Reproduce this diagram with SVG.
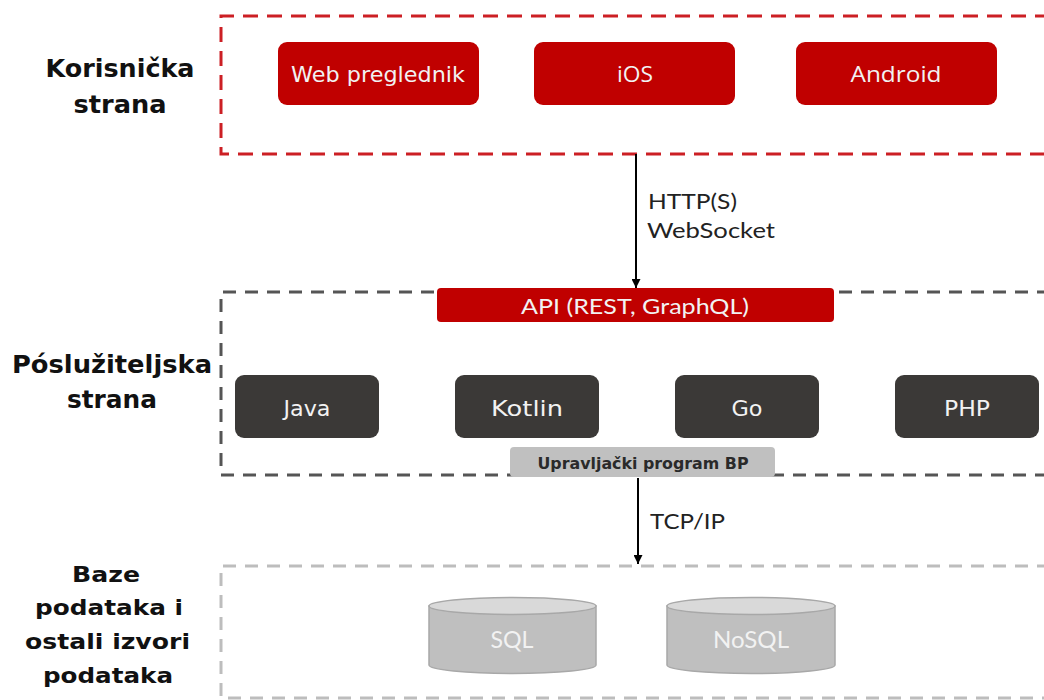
<svg xmlns="http://www.w3.org/2000/svg" width="1044" height="700" viewBox="0 0 1044 700">
<defs>
<style>
.lbl{font-family:"DejaVu Sans","Liberation Sans",sans-serif;font-weight:bold;font-size:24px;fill:#111;text-anchor:middle}
.red{fill:#c00000}
.dark{fill:#3b3937}
.nt{font-family:"DejaVu Sans","Liberation Sans",sans-serif;font-size:22px;fill:#f2f2f2;text-anchor:middle}
.ntc{font-family:Lato,"Open Sans","Liberation Sans",sans-serif;font-size:22px;fill:#f2f2f2;text-anchor:middle}
.edge{font-family:Lato,"Open Sans","Liberation Sans",sans-serif;font-size:22px;fill:#222}
.cont{fill:none;stroke-width:3}
</style>
<marker id="ah" viewBox="0 0 10 10" refX="10" refY="5" markerWidth="9" markerHeight="9" markerUnits="userSpaceOnUse" orient="auto">
<path d="M0,0 L10,5 L0,10 z" fill="#000"/>
</marker>
</defs>
<rect width="1044" height="700" fill="#fff"/>

<!-- containers -->
<g id="containers">
<path class="cont" d="M1050,16 H221 V154 H1050" stroke="#cc1f24" stroke-dasharray="15 9"/>
<path class="cont" d="M1050,292 H221 V475 H1050" stroke="#555" stroke-dasharray="13 9"/>
<path class="cont" d="M1050,566 H221 V698 H1050" stroke="#bdbdbd" stroke-dasharray="13 9"/>
</g>

<!-- tier labels -->
<g id="tier-labels">
<text class="lbl" x="120" y="77" textLength="149" lengthAdjust="spacingAndGlyphs">Korisnička</text>
<text class="lbl" x="120" y="113" textLength="93" lengthAdjust="spacingAndGlyphs">strana</text>
<text class="lbl" x="112" y="373" textLength="200" lengthAdjust="spacingAndGlyphs">Póslužiteljska</text>
<text class="lbl" x="112" y="408" textLength="90" lengthAdjust="spacingAndGlyphs">strana</text>
<text class="lbl" x="106" y="582" textLength="68" lengthAdjust="spacingAndGlyphs" style="font-size:22px">Baze</text>
<text class="lbl" x="109" y="615" textLength="148" lengthAdjust="spacingAndGlyphs" style="font-size:22px">podataka i</text>
<text class="lbl" x="107.5" y="649" textLength="165" lengthAdjust="spacingAndGlyphs" style="font-size:22px">ostali izvori</text>
<text class="lbl" x="108" y="683" textLength="130" lengthAdjust="spacingAndGlyphs" style="font-size:22px">podataka</text>
</g>

<!-- client nodes -->
<g id="web">
<rect class="red" x="278" y="42" width="201" height="63" rx="9"/>
<text class="nt" x="378" y="82" textLength="174" lengthAdjust="spacingAndGlyphs">Web preglednik</text>
</g>
<g id="ios">
<rect class="red" x="534" y="42" width="201" height="63" rx="9"/>
<text class="ntc" x="635" y="82" textLength="36" lengthAdjust="spacingAndGlyphs" style="font-family:'Open Sans',sans-serif">iOS</text>
</g>
<g id="android">
<rect class="red" x="796" y="42" width="201" height="63" rx="9"/>
<text class="ntc" x="896" y="82" textLength="91" lengthAdjust="spacingAndGlyphs" style="font-family:'Open Sans',sans-serif">Android</text>
</g>

<!-- API -->
<g id="api">
<rect class="red" x="437" y="288" width="397" height="34" rx="4"/>
<text class="ntc" x="635" y="314" textLength="228" lengthAdjust="spacingAndGlyphs">API (REST, GraphQL)</text>
</g>

<!-- server nodes -->
<g id="java">
<rect class="dark" x="235" y="375" width="144" height="63" rx="9"/>
<text class="nt" x="307" y="416" textLength="47" lengthAdjust="spacingAndGlyphs">Java</text>
</g>
<g id="kotlin">
<rect class="dark" x="455" y="375" width="144" height="63" rx="9"/>
<text class="nt" x="527" y="416" textLength="72" lengthAdjust="spacingAndGlyphs">Kotlin</text>
</g>
<g id="go">
<rect class="dark" x="675" y="375" width="144" height="63" rx="9"/>
<text class="nt" x="747" y="416" textLength="31" lengthAdjust="spacingAndGlyphs">Go</text>
</g>
<g id="php">
<rect class="dark" x="895" y="375" width="144" height="63" rx="9"/>
<text class="nt" x="967" y="416" textLength="46" lengthAdjust="spacingAndGlyphs">PHP</text>
</g>

<!-- driver -->
<g id="driver">
<rect x="510" y="447" width="265" height="30" rx="4" fill="#c0c0c0"/>
<text x="643" y="469" text-anchor="middle" textLength="211" lengthAdjust="spacingAndGlyphs" style="font-family:'DejaVu Sans',sans-serif;font-weight:bold;font-size:15px;fill:#2a2a2a">Upravljački program BP</text>
</g>

<!-- databases -->
<g id="sql">
<path d="M429,606 V665 A83.5,8.5 0 0 0 596,665 V606 Z" fill="#bfbfbf" stroke="#a8a8a8" stroke-width="1.5"/>
<ellipse cx="512.5" cy="606" rx="83.5" ry="8.5" fill="#d9d9d9" stroke="#a8a8a8" stroke-width="1.5"/>
<text class="ntc" x="512" y="648" textLength="43" lengthAdjust="spacingAndGlyphs" style="font-size:23px">SQL</text>
</g>
<g id="nosql">
<path d="M667,606 V665 A84,8.5 0 0 0 835,665 V606 Z" fill="#bfbfbf" stroke="#a8a8a8" stroke-width="1.5"/>
<ellipse cx="751" cy="606" rx="84" ry="8.5" fill="#d9d9d9" stroke="#a8a8a8" stroke-width="1.5"/>
<text class="ntc" x="751" y="648" textLength="76" lengthAdjust="spacingAndGlyphs" style="font-size:23px">NoSQL</text>
</g>

<!-- connectors -->
<g id="connectors">
<line x1="636" y1="154" x2="636" y2="288" stroke="#000" stroke-width="2" marker-end="url(#ah)"/>
<text class="edge" x="648" y="209" textLength="89" lengthAdjust="spacingAndGlyphs">HTTP(S)</text>
<text class="edge" x="647" y="238" textLength="128" lengthAdjust="spacingAndGlyphs">WebSocket</text>
<line x1="638" y1="478" x2="638" y2="564" stroke="#000" stroke-width="2" marker-end="url(#ah)"/>
<text class="edge" x="650" y="529" textLength="75" lengthAdjust="spacingAndGlyphs">TCP/IP</text>
</g>
</svg>
